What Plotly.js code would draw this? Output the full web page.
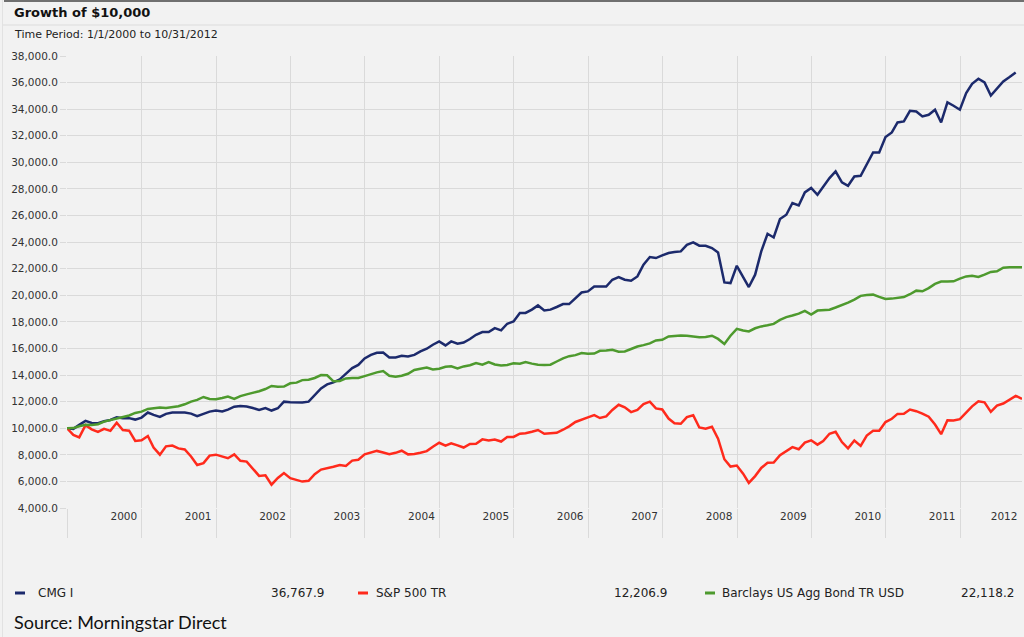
<!DOCTYPE html>
<html>
<head>
<meta charset="utf-8">
<script src="https://cdn.plot.ly/plotly-3.0.1.min.js"></script>
<style>
  html, body { margin: 0; padding: 0; background: #f2f2f2; }
  #chart { width: 1024px; height: 637px; }
</style>
</head>
<body>
<div id="chart"></div>
<script>
// ---------------- DATA ----------------
const seriesNames = ['CMG I', 'S&P 500 TR', 'Barclays US Agg Bond TR USD'];
const legendValues = ['36,767.9', '12,206.9', '22,118.2'];
const yearLabels = ['2000','2001','2002','2003','2004','2005','2006','2007','2008','2009','2010','2011','2012'];

// monthly values, first point = start (12/31/1999), then month ends
const cmgValues = [
  10000, 9950, 10250, 10550, 10400, 10380, 10520, 10620, 10820, 10760, 10760, 10650,
  10800, 11180, 11000, 10850, 11080, 11180, 11190, 11180, 11100, 10900, 11080, 11250,
  11340, 11260, 11400, 11620, 11680, 11640, 11520, 11380, 11520, 11330, 11500, 12000,
  11950, 11920, 11930, 12000, 12500, 13000, 13300, 13450, 13680, 14080, 14520, 14760,
  15250, 15520, 15680, 15700, 15330, 15330, 15450, 15400, 15520, 15780, 15980, 16280,
  16530, 16230, 16530, 16360, 16450, 16710, 17030, 17230, 17230, 17530, 17360, 17860,
  18030, 18670, 18670, 18920, 19240, 18860, 18920, 19120, 19340, 19340, 19790, 20210,
  20290, 20660, 20660, 20660, 21170, 21370, 21170, 21090, 21420, 22300, 22880, 22800,
  23000, 23180, 23250, 23300, 23800, 23980, 23730, 23730, 23550, 23220, 20970, 20920,
  22220, 21420, 20620, 21550, 23300, 24630, 24350, 25740, 26060, 26940, 26760, 27740,
  28070, 27560, 28140, 28820, 29320, 28490, 28240, 28940, 28990, 29870, 30750, 30750,
  31900, 32250, 33000, 33080, 33880, 33830, 33450, 33580, 33960, 33000, 34510, 34260,
  33960, 35210, 35910, 36290, 36010, 35030, 35540, 36090, 36420, 36767.9
];

const sp500Values = [
  10000,
  9498, 9318, 10229, 9921, 9718, 9958, 9803, 10411, 9861, 9820, 9046, 9091,
  9414, 8555, 8013, 8636, 8694, 8483, 8400, 7874, 7238, 7376, 7942, 8012,
  7895, 7742, 8034, 7547, 7491, 6958, 6415, 6458, 5756, 6262, 6631, 6241,
  6078, 5987, 6045, 6543, 6888, 6976, 7099, 7238, 7161, 7566, 7633, 8033,
  8181, 8294, 8169, 8041, 8151, 8309, 8034, 8066, 8153, 8278, 8613, 8906,
  8689, 8871, 8714, 8549, 8821, 8834, 9163, 9079, 9153, 9000, 9340, 9343,
  9591, 9617, 9736, 9867, 9583, 9596, 9656, 9886, 10141, 10472, 10671, 10820,
  10983, 10768, 10889, 11371, 11768, 11573, 11214, 11382, 11808, 11996, 11494, 11415,
  10730, 10381, 10336, 10840, 10981, 10055, 9970, 10115, 9214, 7667, 7116, 7192,
  6586, 5884, 6400, 7012, 7404, 7419, 7980, 8268, 8576, 8417, 8922, 9094,
  8767, 9038, 9583, 9735, 8957, 8488, 9083, 8674, 9448, 9807, 9808, 10463,
  10711, 11078, 11082, 11410, 11281, 11093, 10868, 10278, 9555, 10599, 10576, 10684,
  11162, 11644, 12027, 11951, 11233, 11696, 11858, 12125, 12438, 12206.9
];

const aggValues = [
  10000,
  10010, 10150, 10260, 10240, 10300, 10500, 10620, 10760, 10880, 10960, 11150, 11250,
  11450, 11520, 11560, 11520, 11580, 11650, 11800, 12000, 12130, 12350, 12200, 12180,
  12270, 12380, 12200, 12420, 12550, 12650, 12780, 12950, 13180, 13120, 13130, 13380,
  13430, 13620, 13650, 13780, 14000, 13980, 13530, 13560, 13750, 13780, 13780, 13920,
  14080, 14200, 14300, 13950, 13880, 13950, 14100, 14380, 14480, 14560, 14420, 14480,
  14620, 14660, 14500, 14650, 14740, 14900, 14780, 14980, 14800, 14720, 14760, 14880,
  14860, 14980, 14860, 14780, 14760, 14780, 15020, 15260, 15420, 15500, 15660, 15600,
  15620, 15820, 15840, 15900, 15760, 15780, 15960, 16150, 16250, 16380, 16600, 16650,
  16900, 16950, 16980, 16950, 16870, 16850, 16860, 16960, 16720, 16340, 16960, 17480,
  17350, 17280, 17520, 17660, 17740, 17850, 18150, 18360, 18480, 18620, 18830, 18550,
  18850, 18900, 18920, 19080, 19250, 19450, 19680, 19960, 20030, 20050, 19880, 19720,
  19750, 19790, 19870, 20080, 20350, 20300, 20540, 20860, 21030, 21030, 21050, 21250,
  21420, 21470, 21380, 21550, 21760, 21800, 22080, 22110, 22120, 22118.2
];

const seriesColors = ['#1c2a6c', '#ff2a1c', '#4e9a2e'];

// ---------------- helpers ----------------
function monthEnd(k) { // k=0 -> 1999-12-31, k=1 -> 2000-01-31 ...
  const d = new Date(Date.UTC(2000, k, 0));
  return d.toISOString().slice(0, 10);
}
function datesFor(arr) { return arr.map((_, k) => monthEnd(k)); }

const W = 1024, H = 637, ML = 67, MR = 2, MT = 56, MB = 129;
const PW = W - ML - MR, PH = H - MT - MB;
function px(x) { return (x - ML) / PW; }
function py(y) { return (H - MB - y) / PH; }

const rangeStart = '1999-12-31';
const rangeEnd = '2012-10-31';
const DAY = 86400000;
const endMs = Date.parse(rangeEnd);
const yearStarts = yearLabels.map(y => y + '-01-01');
const labelPos = yearLabels.map(y => {
  const boundary = Math.min(Date.UTC(+y + 1, 0, 1), endMs);
  return new Date(boundary - 88 * DAY).toISOString().slice(0, 10);
});

const GRID = '#dadada';
const FONT = 'DejaVu Sans, Verdana, sans-serif';

const valueSets = [cmgValues, sp500Values, aggValues];
const traces = valueSets.map((vals, i) => ({
  type: 'scatter', mode: 'lines',
  x: datesFor(vals), y: vals,
  name: seriesNames[i],
  line: { color: seriesColors[i], width: 2.5 },
  hoverinfo: 'skip'
}));

// legend built from shapes + annotations
const legendY = py(593);
const legendItems = [
  { dash: 15, text: 36, valRight: 326 },
  { dash: 358, text: 374, valRight: 669 },
  { dash: 705, text: 720, valRight: 1016 }
];
const shapes = [
  // top dark border
  { type: 'line', xref: 'paper', yref: 'paper', x0: px(4), x1: px(1024), y0: py(1), y1: py(1), line: { color: '#444', width: 1.5 } },
  // separator under title
  { type: 'line', xref: 'paper', yref: 'paper', x0: px(3), x1: px(1024), y0: py(25), y1: py(25), line: { color: '#dcdcdc', width: 1 } },
  // left border
  { type: 'line', xref: 'paper', yref: 'paper', x0: px(2.5), x1: px(2.5), y0: py(0), y1: py(637), line: { color: '#e2e2e2', width: 1 } }
];
const annotations = [
  { xref: 'paper', yref: 'paper', x: px(12), y: py(12), xanchor: 'left', yanchor: 'middle', showarrow: false,
    text: '<b>Growth of $10,000</b>', font: { family: FONT, size: 13, color: '#111' } },
  { xref: 'paper', yref: 'paper', x: px(12), y: py(34), xanchor: 'left', yanchor: 'middle', showarrow: false,
    text: 'Time Period: 1/1/2000 to 10/31/2012', font: { family: FONT, size: 11, color: '#222' } },
  { xref: 'paper', yref: 'paper', x: px(12), y: py(622), xanchor: 'left', yanchor: 'middle', showarrow: false,
    text: 'Source: Morningstar Direct', font: { family: 'Lato, sans-serif', size: 18, color: '#111' } }
];
legendItems.forEach((it, i) => {
  shapes.push({ type: 'line', xref: 'paper', yref: 'paper', x0: px(it.dash), x1: px(it.dash + 10), y0: legendY, y1: legendY,
    line: { color: seriesColors[i], width: 3 } });
  annotations.push({ xref: 'paper', yref: 'paper', x: px(it.text), y: legendY, xanchor: 'left', yanchor: 'middle', showarrow: false,
    text: seriesNames[i].replace('&', '&amp;'), font: { family: FONT, size: 12, color: '#222' } });
  annotations.push({ xref: 'paper', yref: 'paper', x: px(it.valRight), y: legendY, xanchor: 'right', yanchor: 'middle', showarrow: false,
    text: legendValues[i], font: { family: FONT, size: 12, color: '#222' } });
});

const layout = {
  width: W, height: H,
  paper_bgcolor: '#f2f2f2', plot_bgcolor: '#f2f2f2',
  margin: { l: ML, r: MR, t: MT, b: MB, pad: 0 },
  showlegend: false,
  xaxis: {
    type: 'date', range: [rangeStart, rangeEnd], fixedrange: true,
    tickmode: 'array', tickvals: labelPos, ticktext: yearLabels,
    ticks: '', showgrid: false, zeroline: false, showline: false,
    tickfont: { family: FONT, size: 10.5, color: '#333' },
    minor: { tickmode: 'array', tickvals: yearStarts, showgrid: true, gridcolor: GRID, gridwidth: 1,
      ticks: 'outside', ticklen: 29, tickcolor: GRID, tickwidth: 1 }
  },
  yaxis: {
    range: [4000, 38000], tick0: 0, dtick: 2000, tickformat: ',.1f', fixedrange: true,
    showgrid: true, gridcolor: GRID, gridwidth: 1, zeroline: false, showline: false,
    ticks: 'outside', ticklen: 6, tickcolor: GRID, tickwidth: 1,
    tickfont: { family: FONT, size: 10.5, color: '#333' }
  },
  shapes: shapes,
  annotations: annotations
};

Plotly.newPlot('chart', traces, layout, { displayModeBar: false, staticPlot: true });
</script>
</body>
</html>
